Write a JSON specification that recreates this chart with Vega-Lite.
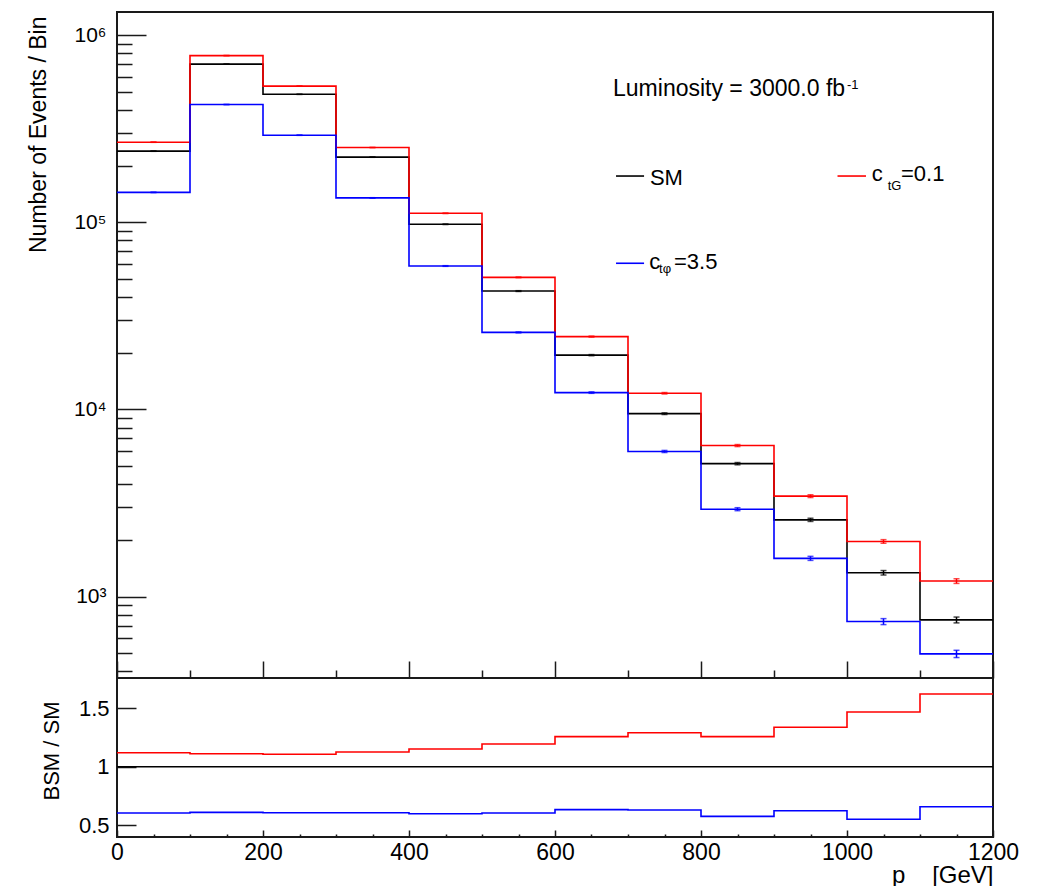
{
  "$schema": "https://vega.github.io/schema/vega-lite/v6.json",
  "background": "white",
  "padding": {"left": 26, "top": 11, "right": 48, "bottom": 0},
  "spacing": 0,
  "bounds": "flush",
  "resolve": {"scale": {"x": "independent", "y": "independent"}},
  "config": {
    "view": {"stroke": "#1a1a1a", "strokeWidth": 2},
    "axis": {"domain": false, "grid": false, "tickColor": "#1a1a1a", "tickWidth": 1.5, "labelFont": "Liberation Sans", "titleFont": "Liberation Sans", "labelColor": "#000", "titleColor": "#000", "titleFontWeight": "normal", "labelOverlap": false, "labelFlush": false, "minExtent": 0},
    "text": {"font": "Liberation Sans", "color": "#000"}
  },
  "datasets": {
    "hist": [
      {"series": "SM", "x": 0, "n": 240000}, {"series": "SM", "x": 100, "n": 700000}, {"series": "SM", "x": 200, "n": 483000}, {"series": "SM", "x": 300, "n": 223000}, {"series": "SM", "x": 400, "n": 97600}, {"series": "SM", "x": 500, "n": 42900}, {"series": "SM", "x": 600, "n": 19500}, {"series": "SM", "x": 700, "n": 9490}, {"series": "SM", "x": 800, "n": 5130}, {"series": "SM", "x": 900, "n": 2570}, {"series": "SM", "x": 1000, "n": 1340}, {"series": "SM", "x": 1100, "n": 750}, {"series": "SM", "x": 1200, "n": 750},
      {"series": "ctG", "x": 0, "n": 268000}, {"series": "ctG", "x": 100, "n": 778000}, {"series": "ctG", "x": 200, "n": 534000}, {"series": "ctG", "x": 300, "n": 251000}, {"series": "ctG", "x": 400, "n": 111700}, {"series": "ctG", "x": 500, "n": 50800}, {"series": "ctG", "x": 600, "n": 24500}, {"series": "ctG", "x": 700, "n": 12200}, {"series": "ctG", "x": 800, "n": 6410}, {"series": "ctG", "x": 900, "n": 3440}, {"series": "ctG", "x": 1000, "n": 1970}, {"series": "ctG", "x": 1100, "n": 1210}, {"series": "ctG", "x": 1200, "n": 1210},
      {"series": "ctphi", "x": 0, "n": 144500}, {"series": "ctphi", "x": 100, "n": 426000}, {"series": "ctphi", "x": 200, "n": 292000}, {"series": "ctphi", "x": 300, "n": 135000}, {"series": "ctphi", "x": 400, "n": 58400}, {"series": "ctphi", "x": 500, "n": 25800}, {"series": "ctphi", "x": 600, "n": 12300}, {"series": "ctphi", "x": 700, "n": 5960}, {"series": "ctphi", "x": 800, "n": 2930}, {"series": "ctphi", "x": 900, "n": 1600}, {"series": "ctphi", "x": 1000, "n": 735}, {"series": "ctphi", "x": 1100, "n": 494}, {"series": "ctphi", "x": 1200, "n": 494}
    ],
    "err": [
      {"series": "SM", "xc": 50, "lo": 239510, "hi": 240490}, {"series": "SM", "xc": 150, "lo": 699163, "hi": 700837}, {"series": "SM", "xc": 250, "lo": 482305, "hi": 483695}, {"series": "SM", "xc": 350, "lo": 222528, "hi": 223472}, {"series": "SM", "xc": 450, "lo": 97288, "hi": 97912}, {"series": "SM", "xc": 550, "lo": 42693, "hi": 43107}, {"series": "SM", "xc": 650, "lo": 19360, "hi": 19640}, {"series": "SM", "xc": 750, "lo": 9393, "hi": 9587}, {"series": "SM", "xc": 850, "lo": 5058, "hi": 5202}, {"series": "SM", "xc": 950, "lo": 2519, "hi": 2621}, {"series": "SM", "xc": 1050, "lo": 1303, "hi": 1377}, {"series": "SM", "xc": 1150, "lo": 723, "hi": 777},
      {"series": "ctG", "xc": 50, "lo": 267482, "hi": 268518}, {"series": "ctG", "xc": 150, "lo": 777118, "hi": 778882}, {"series": "ctG", "xc": 250, "lo": 533269, "hi": 534731}, {"series": "ctG", "xc": 350, "lo": 250499, "hi": 251501}, {"series": "ctG", "xc": 450, "lo": 111366, "hi": 112034}, {"series": "ctG", "xc": 550, "lo": 50575, "hi": 51025}, {"series": "ctG", "xc": 650, "lo": 24343, "hi": 24657}, {"series": "ctG", "xc": 750, "lo": 12090, "hi": 12310}, {"series": "ctG", "xc": 850, "lo": 6330, "hi": 6490}, {"series": "ctG", "xc": 950, "lo": 3381, "hi": 3499}, {"series": "ctG", "xc": 1050, "lo": 1926, "hi": 2014}, {"series": "ctG", "xc": 1150, "lo": 1175, "hi": 1245},
      {"series": "ctphi", "xc": 50, "lo": 144120, "hi": 144880}, {"series": "ctphi", "xc": 150, "lo": 425347, "hi": 426653}, {"series": "ctphi", "xc": 250, "lo": 291460, "hi": 292540}, {"series": "ctphi", "xc": 350, "lo": 134633, "hi": 135367}, {"series": "ctphi", "xc": 450, "lo": 58158, "hi": 58642}, {"series": "ctphi", "xc": 550, "lo": 25639, "hi": 25961}, {"series": "ctphi", "xc": 650, "lo": 12189, "hi": 12411}, {"series": "ctphi", "xc": 750, "lo": 5883, "hi": 6037}, {"series": "ctphi", "xc": 850, "lo": 2876, "hi": 2984}, {"series": "ctphi", "xc": 950, "lo": 1560, "hi": 1640}, {"series": "ctphi", "xc": 1050, "lo": 708, "hi": 762}, {"series": "ctphi", "xc": 1150, "lo": 472, "hi": 516}
    ],
    "ratio": [
      {"series": "SM", "x": 0, "r": 1}, {"series": "SM", "x": 1200, "r": 1},
      {"series": "ctG", "x": 0, "r": 1.119}, {"series": "ctG", "x": 100, "r": 1.111}, {"series": "ctG", "x": 200, "r": 1.106}, {"series": "ctG", "x": 300, "r": 1.125}, {"series": "ctG", "x": 400, "r": 1.151}, {"series": "ctG", "x": 500, "r": 1.193}, {"series": "ctG", "x": 600, "r": 1.256}, {"series": "ctG", "x": 700, "r": 1.29}, {"series": "ctG", "x": 800, "r": 1.256}, {"series": "ctG", "x": 900, "r": 1.336}, {"series": "ctG", "x": 1000, "r": 1.466}, {"series": "ctG", "x": 1100, "r": 1.62}, {"series": "ctG", "x": 1200, "r": 1.62},
      {"series": "ctphi", "x": 0, "r": 0.605}, {"series": "ctphi", "x": 100, "r": 0.611}, {"series": "ctphi", "x": 200, "r": 0.608}, {"series": "ctphi", "x": 300, "r": 0.608}, {"series": "ctphi", "x": 400, "r": 0.599}, {"series": "ctphi", "x": 500, "r": 0.605}, {"series": "ctphi", "x": 600, "r": 0.634}, {"series": "ctphi", "x": 700, "r": 0.631}, {"series": "ctphi", "x": 800, "r": 0.577}, {"series": "ctphi", "x": 900, "r": 0.625}, {"series": "ctphi", "x": 1000, "r": 0.552}, {"series": "ctphi", "x": 1100, "r": 0.659}, {"series": "ctphi", "x": 1200, "r": 0.659}
    ],
    "legend": [
      {"series": "SM", "x": 683.6, "x2": 722, "y": 176700},
      {"series": "ctG", "x": 987, "x2": 1026, "y": 176700},
      {"series": "ctphi", "x": 683.6, "x2": 722, "y": 60400}
    ],
    "annLumi": [
      {"x": 679.5, "y": 472000, "text": "Luminosity = 3000.0 fb"}
    ],
    "annMain": [
      {"x": 730, "y": 158000, "text": "SM"},
      {"x": 1034, "y": 165700, "text": "c"},
      {"x": 1074, "y": 165700, "text": "=0.1"},
      {"x": 729, "y": 56500, "text": "c"},
      {"x": 763, "y": 56500, "text": "=3.5"}
    ],
    "annSmall": [
      {"x": 1000, "y": 513000, "text": "-1"},
      {"x": 1055.7, "y": 149700, "text": "tG"},
      {"x": 742.5, "y": 53300, "text": "tφ"}
    ]
  },
  "vconcat": [
    {
      "width": 876,
      "height": 666,
      "layer": [
        {
          "data": {"name": "hist"},
          "mark": {"type": "line", "interpolate": "step-after", "strokeWidth": 1.6},
          "encoding": {
            "x": {"field": "x", "type": "quantitative", "title": null, "scale": {"domain": [0, 1200], "nice": false, "zero": false},
              "axis": {"values": [0,50,100,150,200,250,300,350,400,450,500,550,600,650,700,750,800,850,900,950,1000,1050,1100,1150,1200], "labels": false, "title": null, "minExtent": 0, "maxExtent": 0,
                "tickSize": {"condition": {"test": "datum.value % 200 == 0", "value": -17}, "value": -8}}},
            "y": {"field": "n", "type": "quantitative", "title": "Number of Events / Bin", "scale": {"type": "log", "domain": [367, 1330000], "nice": false},
              "axis": {"values": [400,500,600,700,800,900,1000,2000,3000,4000,5000,6000,7000,8000,9000,10000,20000,30000,40000,50000,60000,70000,80000,90000,100000,200000,300000,400000,500000,600000,700000,800000,900000,1000000],
                "labelExpr": "datum.value == 1000 ? '10³' : datum.value == 10000 ? '10⁴' : datum.value == 100000 ? '10⁵' : datum.value == 1000000 ? '10⁶' : ''",
                "tickSize": {"condition": {"test": "datum.value == 1000 || datum.value == 10000 || datum.value == 100000 || datum.value == 1000000", "value": -29}, "value": -15},
                "labelPadding": 40, "labelFontSize": 21,
                "title": "Number of Events / Bin", "titleFontSize": 23, "titleX": -72, "titleY": 4, "titleAlign": "right", "titleBaseline": "alphabetic", "titleAngle": 270}},
            "color": {"field": "series", "type": "nominal", "scale": {"domain": ["SM", "ctG", "ctphi"], "range": ["#000000", "#ff0000", "#0000ff"]}, "legend": null}
          }
        },
        {
          "data": {"name": "err"},
          "mark": {"type": "errorbar", "ticks": {"size": 6}, "thickness": 1.5},
          "encoding": {
            "x": {"field": "xc", "type": "quantitative", "title": null},
            "y": {"field": "lo", "type": "quantitative", "title": "Number of Events / Bin"},
            "y2": {"field": "hi"},
            "color": {"field": "series", "type": "nominal", "legend": null}
          }
        },
        {
          "data": {"name": "legend"},
          "mark": {"type": "rule", "strokeWidth": 1.6},
          "encoding": {
            "x": {"field": "x", "type": "quantitative", "title": null},
            "x2": {"field": "x2"},
            "y": {"field": "y", "type": "quantitative", "title": "Number of Events / Bin"},
            "color": {"field": "series", "type": "nominal", "legend": null}
          }
        },
        {
          "data": {"name": "annLumi"},
          "mark": {"type": "text", "align": "left", "baseline": "alphabetic", "fontSize": 23},
          "encoding": {
            "x": {"field": "x", "type": "quantitative", "title": null},
            "y": {"field": "y", "type": "quantitative", "title": "Number of Events / Bin"},
            "text": {"field": "text"}
          }
        },
        {
          "data": {"name": "annMain"},
          "mark": {"type": "text", "align": "left", "baseline": "alphabetic", "fontSize": 22},
          "encoding": {
            "x": {"field": "x", "type": "quantitative", "title": null},
            "y": {"field": "y", "type": "quantitative", "title": "Number of Events / Bin"},
            "text": {"field": "text"}
          }
        },
        {
          "data": {"name": "annSmall"},
          "mark": {"type": "text", "align": "left", "baseline": "alphabetic", "fontSize": 13},
          "encoding": {
            "x": {"field": "x", "type": "quantitative", "title": null},
            "y": {"field": "y", "type": "quantitative", "title": "Number of Events / Bin"},
            "text": {"field": "text"}
          }
        }
      ]
    },
    {
      "width": 876,
      "height": 159,
      "layer": [
        {
          "data": {"name": "ratio"},
          "mark": {"type": "line", "interpolate": "step-after", "strokeWidth": 1.6},
          "encoding": {
            "x": {"field": "x", "type": "quantitative", "scale": {"domain": [0, 1200], "nice": false, "zero": false},
              "axis": {"values": [0,50,100,150,200,250,300,350,400,450,500,550,600,650,700,750,800,850,900,950,1000,1050,1100,1150,1200],
                "format": "d", "labelExpr": "datum.value % 200 == 0 ? datum.label : ''",
                "tickSize": {"condition": {"test": "datum.value % 200 == 0", "value": -7}, "value": -3},
                "labelPadding": 11, "labelFontSize": 23,
                "title": "p\u00a0\u00a0\u00a0\u00a0[GeV]", "titleFontSize": 24, "titleAnchor": "end", "titleAlign": "right", "titleBaseline": "alphabetic", "titleX": 876, "titleY": 45}},
            "y": {"field": "r", "type": "quantitative", "scale": {"domain": [0.401, 1.756], "nice": false, "zero": false},
              "axis": {"values": [0.5, 1, 1.5], "format": "~g", "tickSize": -19, "labelPadding": 27, "labelFontSize": 22,
                "title": "BSM / SM", "titleFontSize": 22, "titleX": -59, "titleY": 23, "titleAlign": "right", "titleBaseline": "alphabetic", "titleAngle": 270}},
            "color": {"field": "series", "type": "nominal", "scale": {"domain": ["SM", "ctG", "ctphi"], "range": ["#000000", "#ff0000", "#0000ff"]}, "legend": null}
          }
        }
      ]
    }
  ]
}
